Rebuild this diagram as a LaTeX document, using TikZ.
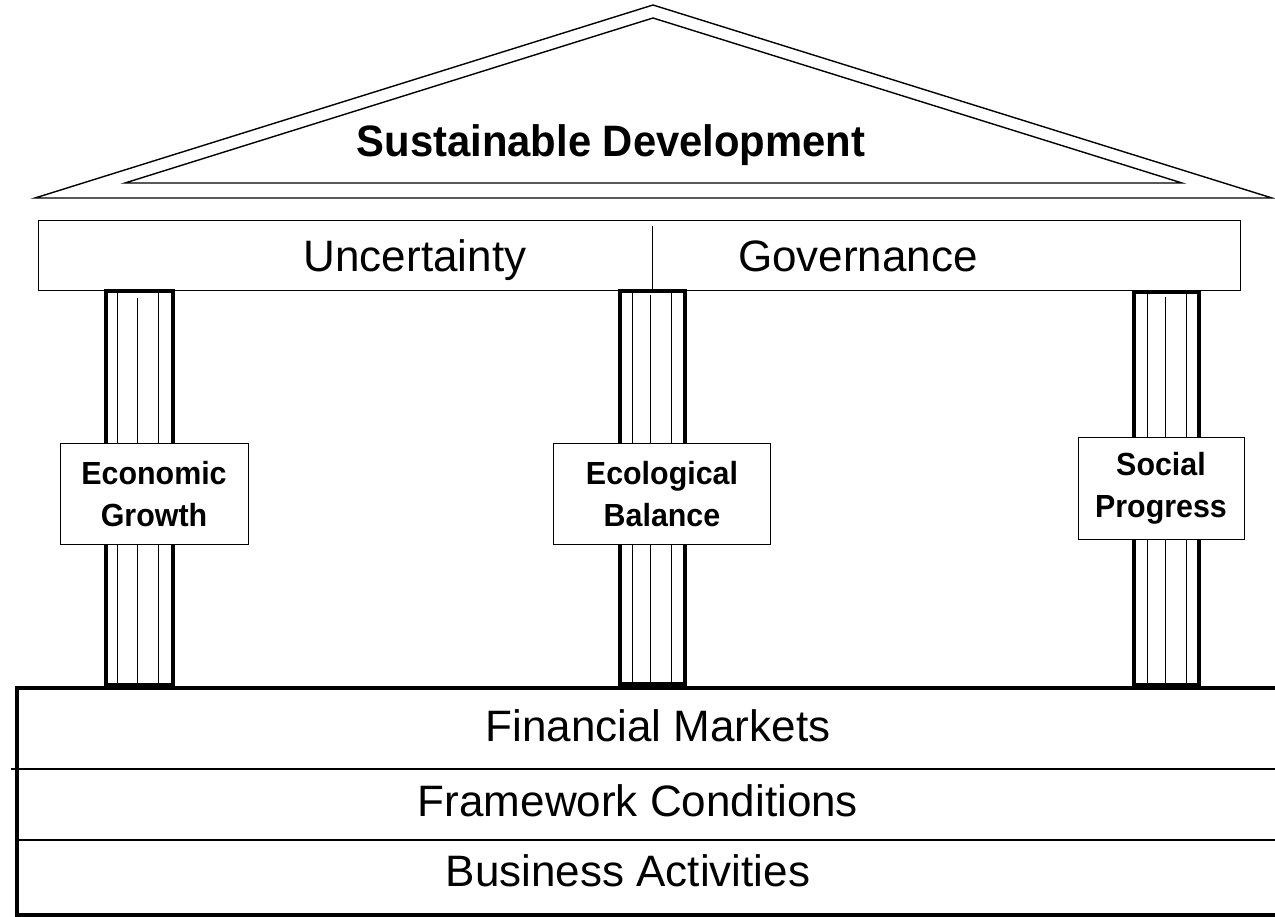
\documentclass[tikz,border=0pt]{standalone}
\usepackage{fontspec}
\setmainfont{Liberation Sans}
\newfontfamily\condsans[FakeStretch=0.95]{Liberation Sans}
\begin{document}
\begin{tikzpicture}[x=1pt,y=-1pt,
  roofline/.style={line width=1.4pt, line join=miter},
  beambox/.style={draw, line width=1pt},
  pillarout/.style={line width=3.5pt},
  flute/.style={line width=1pt},
  labelbox/.style={draw, fill=white, line width=1pt, inner sep=0pt, align=center,
    font=\condsans\fontsize{32}{42}\selectfont\bfseries},
  bigtext/.style={font=\fontsize{44}{50}\selectfont, inner sep=0pt, anchor=base},
  roottext/.style={font=\condsans\fontsize{44}{50}\selectfont\bfseries, inner sep=0pt, anchor=base},
  divider/.style={line width=1.5pt}
]
\useasboundingbox (0,0) rectangle (1275,917);
% roof
\draw[roofline] (35,198) -- (653,5) -- (1272,198) -- cycle;
\draw[roofline] (125,183) -- (653,18) -- (1182,183) -- cycle;
\node[roottext] (sd) at (611,157) {Sustainable Development};
% beam
\draw[beambox] (38,221) rectangle (1240,291);
\coordinate (dtop) at (652,226);
\coordinate (dbot) at (652,291);
\draw[line width=1pt] (dtop) -- (dbot);
\node[bigtext] (unc) at (415,272) {Uncertainty};
\node[bigtext] (gov) at (858,272) {Governance};
% pillars
\draw[pillarout] (106,291) rectangle (173,685);
\draw[flute] (117,293) -- (117,684) (137,298) -- (137,684) (158,293) -- (158,684);
\draw[pillarout] (620,291) rectangle (685,684);
\draw[flute] (632,293) -- (632,683) (650,295) -- (650,683) (671,293) -- (671,683);
\draw[pillarout] (1134,292) rectangle (1199,685);
\draw[flute] (1147,294) -- (1147,684) (1165,297) -- (1165,684) (1186,294) -- (1186,684);
% pillar labels
\node[labelbox, minimum width=188pt, minimum height=101pt] (eco) at (154,494) {Economic\\Growth};
\node[labelbox, minimum width=217pt, minimum height=101pt] (ecl) at (662,494) {Ecological\\Balance};
\node[labelbox, minimum width=166pt, minimum height=102pt] (soc) at (1161,488) {Social\\Progress};
% foundation
\draw[line width=3.5pt] (1276,688) -- (17,688) -- (17,915) -- (1276,915);
\draw[divider] (11,769) -- (1275,769);
\draw[divider] (17,840) -- (1275,840);
\node[bigtext] (fin) at (658,741) {Financial Markets};
\node[bigtext] (fw) at (638,816) {Framework Conditions};
\node[bigtext] (bus) at (628,886) {Business Activities};
\end{tikzpicture}
\end{document}
